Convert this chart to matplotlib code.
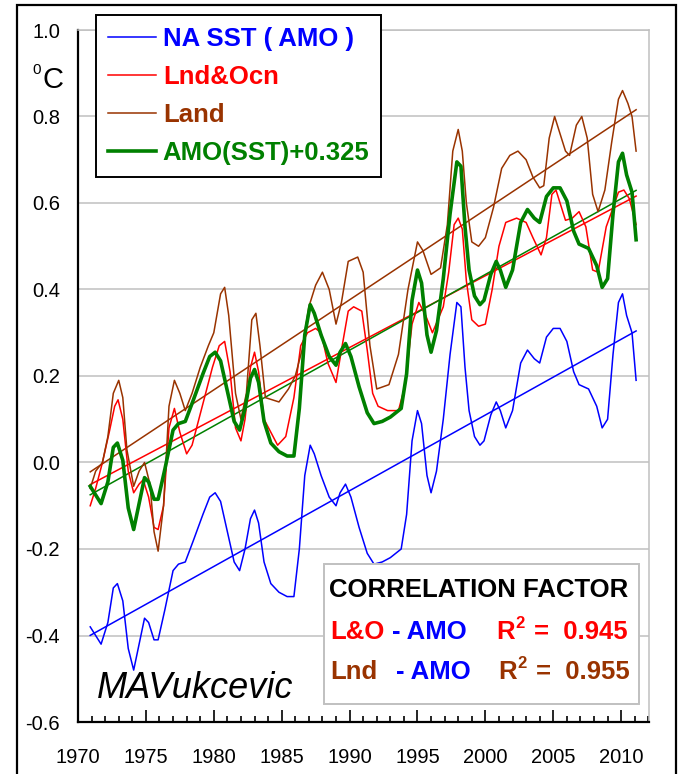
import numpy as np
import matplotlib
matplotlib.use("Agg")
import matplotlib.pyplot as plt
from matplotlib.patches import Rectangle
from matplotlib.ticker import MultipleLocator

plt.rcParams['font.family'] = ['Liberation Sans', 'DejaVu Sans']
plt.rcParams['axes.unicode_minus'] = False

# North Atlantic SST anomaly (AMO), deg C
amo_year = [1970.9, 1971.3, 1971.7, 1972.2, 1972.6, 1972.9, 1973.3, 1973.7, 1974.1, 1974.5,
            1974.9, 1975.2, 1975.6, 1975.9, 1976.4, 1977.0, 1977.4, 1977.9, 1978.5, 1979.2,
            1979.7, 1980.1, 1980.5, 1981.0, 1981.5, 1981.9, 1982.3, 1982.7, 1983.0, 1983.3,
            1983.7, 1984.2, 1984.8, 1985.4, 1985.9, 1986.3, 1986.7, 1987.1, 1987.4, 1987.9,
            1988.5, 1989.0, 1989.3, 1989.7, 1990.1, 1990.7, 1991.3, 1991.8, 1992.4, 1993.0,
            1993.8, 1994.2, 1994.6, 1995.0, 1995.3, 1995.7, 1996.0, 1996.4, 1996.9, 1997.4,
            1997.9, 1998.2, 1998.5, 1998.8, 1999.2, 1999.6, 1999.9, 2000.4, 2000.8, 2001.1,
            2001.5, 2002.0, 2002.6, 2003.1, 2003.6, 2004.0, 2004.5, 2005.0, 2005.5, 2006.0,
            2006.5, 2006.9, 2007.6, 2008.2, 2008.6, 2009.0, 2009.4, 2009.8, 2010.1, 2010.4,
            2010.8, 2011.1]
amo_sst = [-0.38, -0.40, -0.42, -0.37, -0.29, -0.28, -0.32, -0.43, -0.48, -0.42,
           -0.36, -0.37, -0.41, -0.41, -0.34, -0.25, -0.235, -0.23, -0.18, -0.12,
           -0.08, -0.07, -0.09, -0.16, -0.23, -0.25, -0.20, -0.13, -0.11, -0.14,
           -0.23, -0.28, -0.30, -0.31, -0.31, -0.20, -0.03, 0.04, 0.02, -0.03,
           -0.08, -0.10, -0.07, -0.05, -0.08, -0.15, -0.21, -0.235, -0.23, -0.22,
           -0.20, -0.12, 0.05, 0.12, 0.09, -0.03, -0.07, -0.02, 0.10, 0.25,
           0.37, 0.36, 0.22, 0.12, 0.06, 0.04, 0.05, 0.11, 0.14, 0.12,
           0.08, 0.12, 0.23, 0.26, 0.24, 0.23, 0.29, 0.31, 0.31, 0.28,
           0.21, 0.18, 0.17, 0.13, 0.08, 0.10, 0.25, 0.37, 0.39, 0.34,
           0.30, 0.19]

# Land & ocean combined anomaly
lo_year = [1970.9, 1971.3, 1971.8, 1972.3, 1972.7, 1972.95, 1973.3, 1973.7, 1974.1, 1974.5,
           1974.8, 1975.2, 1975.6, 1975.9, 1976.3, 1976.7, 1977.1, 1977.5, 1978.0, 1978.4,
           1978.9, 1979.4, 1979.9, 1980.4, 1980.8, 1981.2, 1981.6, 1982.0, 1982.3, 1982.7,
           1983.0, 1983.3, 1983.7, 1984.2, 1984.7, 1985.3, 1985.9, 1986.4, 1986.9, 1987.5,
           1987.9, 1988.4, 1989.0, 1989.4, 1989.9, 1990.3, 1990.9, 1991.3, 1991.7, 1992.1,
           1992.8, 1993.6, 1994.1, 1994.6, 1995.1, 1995.6, 1996.1, 1996.5, 1996.9, 1997.3,
           1997.7, 1998.0, 1998.3, 1998.6, 1999.0, 1999.5, 2000.0, 2000.5, 2001.0, 2001.5,
           2002.3, 2003.0, 2003.5, 2004.1, 2004.5, 2004.9, 2005.2, 2005.5, 2005.9, 2006.4,
           2006.9, 2007.4, 2007.9, 2008.3, 2008.9, 2009.3, 2009.8, 2010.2, 2010.6, 2011.1]
lnd_ocn = [-0.10, -0.06, 0.00, 0.07, 0.13, 0.145, 0.10, -0.02, -0.07, -0.05,
           -0.04, -0.08, -0.15, -0.155, -0.10, 0.08, 0.125, 0.07, 0.02, 0.04,
           0.10, 0.16, 0.22, 0.27, 0.28, 0.21, 0.08, 0.05, 0.10, 0.22,
           0.255, 0.21, 0.10, 0.07, 0.04, 0.06, 0.15, 0.27, 0.30, 0.31,
           0.30, 0.23, 0.185, 0.26, 0.35, 0.36, 0.35, 0.26, 0.16, 0.13,
           0.12, 0.12, 0.18, 0.32, 0.37, 0.34, 0.30, 0.33, 0.36, 0.44,
           0.55, 0.565, 0.54, 0.42, 0.33, 0.315, 0.32, 0.40, 0.50, 0.555,
           0.565, 0.555, 0.52, 0.48, 0.52, 0.62, 0.63, 0.60, 0.56, 0.565,
           0.58, 0.545, 0.445, 0.44, 0.545, 0.58, 0.625, 0.63, 0.61, 0.55]

# Land-only anomaly
lnd_year = [1970.9, 1971.3, 1971.8, 1972.2, 1972.6, 1973.0, 1973.3, 1973.6, 1974.1, 1974.5,
            1974.9, 1975.3, 1975.6, 1975.9, 1976.3, 1976.7, 1977.1, 1977.5, 1977.9, 1978.4,
            1979.0, 1979.6, 1980.0, 1980.5, 1980.8, 1981.1, 1981.6, 1982.0, 1982.4, 1982.8,
            1983.1, 1983.4, 1983.8, 1984.3, 1984.8, 1985.5, 1986.0, 1986.5, 1987.0, 1987.5,
            1988.0, 1988.5, 1989.0, 1989.4, 1989.9, 1990.6, 1991.0, 1991.5, 1992.0, 1992.9,
            1993.6, 1994.3, 1995.0, 1995.4, 1996.0, 1996.7, 1997.2, 1997.6, 1998.0, 1998.3,
            1998.6, 1999.0, 1999.5, 2000.0, 2000.6, 2001.2, 2001.8, 2002.4, 2003.0, 2003.5,
            2004.0, 2004.3, 2004.7, 2005.1, 2005.5, 2005.9, 2006.2, 2006.7, 2007.1, 2007.5,
            2007.9, 2008.3, 2008.8, 2009.3, 2009.8, 2010.1, 2010.5, 2010.8, 2011.1]
land = [-0.06, -0.02, 0.00, 0.06, 0.16, 0.19, 0.15, 0.03, -0.055, -0.02,
        0.00, -0.05, -0.16, -0.205, -0.10, 0.13, 0.19, 0.16, 0.12, 0.16,
        0.22, 0.27, 0.30, 0.39, 0.405, 0.34, 0.16, 0.10, 0.16, 0.33,
        0.345, 0.27, 0.15, 0.145, 0.14, 0.17, 0.20, 0.26, 0.36, 0.41,
        0.44, 0.40, 0.32, 0.37, 0.465, 0.475, 0.44, 0.27, 0.17, 0.18,
        0.25, 0.40, 0.51, 0.49, 0.435, 0.45, 0.55, 0.72, 0.77, 0.72,
        0.60, 0.51, 0.50, 0.52, 0.59, 0.68, 0.71, 0.72, 0.70, 0.66,
        0.635, 0.64, 0.75, 0.80, 0.76, 0.72, 0.71, 0.78, 0.80, 0.75,
        0.62, 0.58, 0.63, 0.74, 0.84, 0.86, 0.83, 0.80, 0.72]

amo_offset = 0.325
r2_lo = 0.945
r2_lnd = 0.955

c_blue = '#0000ff'
c_red = '#ff0000'
c_brown = '#993300'
c_green = '#008000'

W, H = 682, 774
fig = plt.figure(figsize=(W / 100, H / 100), dpi=100)
ax = fig.add_axes([78 / W, 1 - 722 / H, (649 - 78) / W, (722 - 30) / H])

amo_year = np.array(amo_year)
amo_sst = np.array(amo_sst)
amo_shift = amo_sst + amo_offset

series = [
    (amo_year, amo_sst, c_blue, 1.1, 'NA SST ( AMO )'),
    (np.array(lo_year), np.array(lnd_ocn), c_red, 1.1, 'Lnd&Ocn'),
    (np.array(lnd_year), np.array(land), c_brown, 1.1, 'Land'),
    (amo_year, amo_shift, c_green, 2.6, 'AMO(SST)+0.325'),
]

handles = []
for x, y, col, lw, lab in series:
    h, = ax.plot(x, y, color=col, lw=lw, solid_joinstyle='round', label=lab, zorder=3)
    handles.append(h)
    # linear trend line, first to last point
    k, b = np.polyfit(x, y, 1)
    xe = np.array([x[0], x[-1]])
    ax.plot(xe, k * xe + b, color=col, lw=1.1, zorder=2.5)

ax.set_xlim(1970, 2012.05)
ax.set_ylim(-0.6, 1.0)
ax.xaxis.set_major_locator(MultipleLocator(5))
ax.xaxis.set_minor_locator(MultipleLocator(1))
ax.yaxis.set_major_locator(MultipleLocator(0.2))
ax.yaxis.set_major_formatter(plt.FuncFormatter(lambda v, p: '%.1f' % v))
ax.xaxis.set_major_formatter(plt.FuncFormatter(lambda v, p: '%d' % v))
ax.grid(axis='y', color='#c0c0c0', lw=1.1)
ax.set_axisbelow(True)
ax.tick_params(axis='x', which='major', direction='in', length=9, width=1.2, labelsize=14.5, pad=19)
ax.tick_params(axis='x', which='minor', direction='in', length=4, width=1.2)
ax.tick_params(axis='y', length=0, labelsize=14.5, pad=13)
for s in ['left', 'bottom']:
    ax.spines[s].set_linewidth(1.6)
for s in ['top', 'right']:
    ax.spines[s].set_color('#c0c0c0')
    ax.spines[s].set_linewidth(1.1)

# degree label on the y axis
fig.text(37 / W, 1 - 70 / H, '0', fontsize=11, ha='center', va='center')
fig.text(53 / W, 1 - 80 / H, 'C', fontsize=21, ha='center', va='center')

leg = ax.legend(handles=handles, loc='upper left', bbox_to_anchor=(96 / W, 1 - 15 / H),
                bbox_transform=fig.transFigure, borderaxespad=0, fancybox=False,
                framealpha=1, edgecolor='black', handlelength=1.9, handletextpad=0.25,
                labelspacing=0.55, borderpad=0.45, prop={'weight': 'bold', 'size': 18.5})
leg.get_frame().set_linewidth(1.4)
for t, h in zip(leg.get_texts(), handles):
    t.set_color(h.get_color())
leg.set_zorder(10)

# correlation box
fig.add_artist(Rectangle((324 / W, 1 - 704 / H), (639 - 324) / W, (704 - 564) / H,
                         transform=fig.transFigure, facecolor='white', edgecolor='#c0c0c0',
                         lw=1.4, zorder=5))
fb = dict(fontsize=18.5, fontweight='bold', va='center', ha='left', zorder=6)
fig.text(329 / W, 1 - 590 / H, 'CORRELATION FACTOR', color='black', **fb)
rows = [(632, 'L&O', c_red, 392, 496, r2_lo), (672, 'Lnd', c_brown, 396, 498, r2_lnd)]
for yy, name, col, xa, xr, r2 in rows:
    fig.text(330 / W, 1 - yy / H, name, color=col, **fb)
    fig.text(xa / W, 1 - yy / H, '- AMO', color=c_blue, **fb)
    fig.text(xr / W, 1 - yy / H, 'R', color=col, **fb)
    fig.text((xr + 19) / W, 1 - (yy - 9) / H, '2', color=col, fontsize=12, fontweight='bold',
             va='center', ha='left', zorder=6)
    fig.text((xr + 38) / W, 1 - yy / H, '=  %.3f' % r2, color=col, **fb)

fig.text(195 / W, 1 - 689 / H, 'MAVukcevic', fontsize=26, style='italic', ha='center', va='center')

# outer frame
fig.add_artist(Rectangle((17 / W, -0.05), (676 - 17) / W, 1.05 - 5 / H, transform=fig.transFigure,
                         fill=False, edgecolor='black', lw=1.6, clip_on=False))

fig.savefig('out.png', dpi=100)
